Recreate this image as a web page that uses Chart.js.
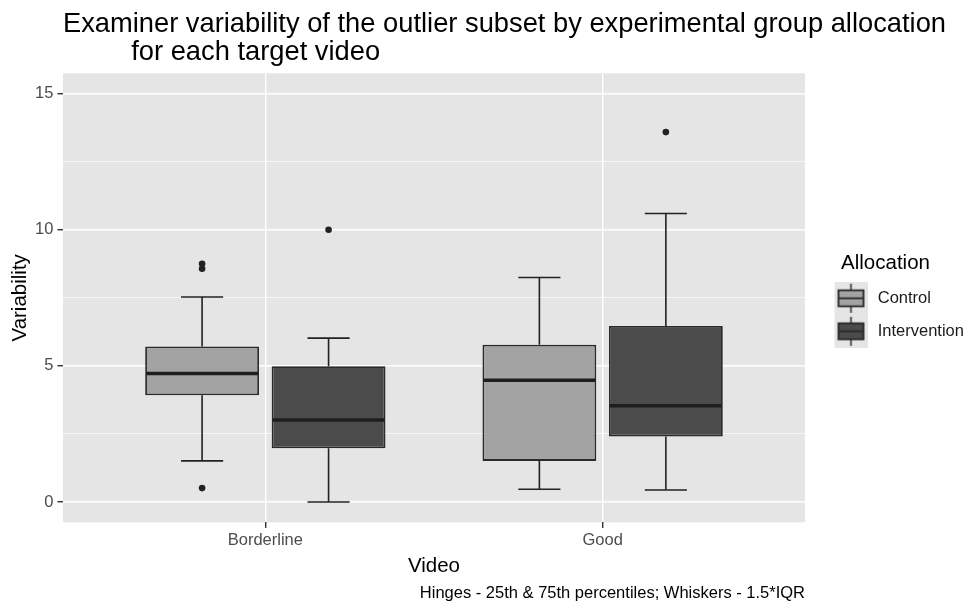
<!DOCTYPE html>
<html>
<head>
<meta charset="utf-8">
<title>Examiner variability</title>
<script src="https://cdn.jsdelivr.net/npm/chart.js@4.4.1/dist/chart.umd.min.js"></script>
<style>
  html, body { margin: 0; padding: 0; background: #ffffff; }
  #wrap { width: 966px; height: 604px; }
</style>
</head>
<body>
<div id="wrap"><canvas id="chartVariabilidad" width="966" height="604"></canvas></div>
<script>
const categories = ['Borderline', 'Good'];
const groups = ['Control', 'Intervention'];
const groupColors = ['#a3a3a3', '#4b4b4b'];

// resumen de cada caja, un valor por video (Borderline, Good)
const controlLow = [1.51, 0.47];
const controlQ1 = [3.92, 1.51];
const controlMedian = [4.72, 4.47];
const controlQ3 = [5.71, 5.78];
const controlHigh = [7.53, 8.25];
const controlOutliers = [[8.57, 8.75, 0.51], []];

const interventionLow = [0.0, 0.44];
const interventionQ1 = [1.97, 2.41];
const interventionMedian = [3.01, 3.54];
const interventionQ3 = [4.99, 6.47];
const interventionHigh = [6.02, 10.6];
const interventionOutliers = [[10.0], [13.59]];

const yTicks = [0, 2.5, 5, 7.5, 10, 12.5, 15];

const fontFamily = '"Liberation Sans", Arial, sans-serif';
const dodge = 0.75;   // ancho del dodge de ggplot = categoryPercentage
const panelColor = '#e5e5e5';

function crearCaja(nombre, color, low, q1, med, q3, high) {
    return {
        type: 'bar',
        label: nombre,
        data: categories.map((c, i) => ({ x: i + 1, y: [q1[i], q3[i]] })),
        backgroundColor: color,
        borderColor: '#2a2a2a',
        borderWidth: 1.8,
        borderSkipped: false,
        categoryPercentage: dodge,
        barPercentage: 0.9,
        whiskers: { low: low, med: med, high: high, q1: q1, q3: q3 },
        order: 1
    };
}

function crearAtipicos(nombre, g, valores) {
    const puntos = [];
    valores.forEach((lista, i) => {
        lista.forEach(v => puntos.push({ x: i + 1 + (g - 0.5) * dodge / 2, y: v }));
    });
    return {
        type: 'scatter',
        label: nombre + ' outliers',
        data: puntos,
        pointRadius: 3.3,
        pointBackgroundColor: '#222222',
        pointBorderWidth: 0,
        order: 0
    };
}

// llave de la leyenda con forma de boxplot
function crearLlave(color) {
    const c = document.createElement('canvas');
    c.width = 44;
    c.height = 33;
    const g = c.getContext('2d');
    const ox = 11;
    g.fillStyle = panelColor;
    g.fillRect(ox, 0, 33, 33);
    g.strokeStyle = '#2a2a2a';
    g.lineWidth = 1.5;
    g.beginPath();
    g.moveTo(ox + 16.5, 2);
    g.lineTo(ox + 16.5, 31);
    g.stroke();
    g.fillStyle = color;
    g.fillRect(ox + 4, 8.5, 25, 16);
    g.lineWidth = 1.8;
    g.strokeRect(ox + 4, 8.5, 25, 16);
    g.beginPath();
    g.moveTo(ox + 4, 16.5);
    g.lineTo(ox + 29, 16.5);
    g.stroke();
    return c;
}

const llaves = groupColors.map(crearLlave);

const fondoPanel = {
    id: 'fondoPanel',
    beforeDraw(chart) {
        const { ctx, chartArea } = chart;
        ctx.save();
        ctx.fillStyle = '#ffffff';
        ctx.fillRect(0, 0, chart.width, chart.height);
        ctx.fillStyle = panelColor;
        ctx.fillRect(chartArea.left, chartArea.top, chartArea.right - chartArea.left, chartArea.bottom - chartArea.top);
        ctx.restore();
    }
};

// el titulo arranca en el borde del panel, como en ggplot
const tituloEnPanel = {
    id: 'tituloEnPanel',
    afterLayout(chart) {
        if (chart.titleBlock) {
            chart.titleBlock.left = chart.chartArea.left;
            chart.titleBlock.right = chart.width;
        }
    }
};

const bigotes = {
    id: 'bigotes',
    afterDatasetsDraw(chart) {
        const ctx = chart.ctx;
        const yScale = chart.scales.y;
        chart.data.datasets.forEach((ds, di) => {
            if (!ds.whiskers) return;
            const w = ds.whiskers;
            chart.getDatasetMeta(di).data.forEach((bar, i) => {
                const x = bar.x;
                const half = bar.width / 2;
                const cap = bar.width * 0.185;
                ctx.save();
                ctx.strokeStyle = '#222222';
                ctx.lineWidth = 1.6;
                ctx.beginPath();
                ctx.moveTo(x, yScale.getPixelForValue(w.q3[i]));
                ctx.lineTo(x, yScale.getPixelForValue(w.high[i]));
                ctx.moveTo(x, yScale.getPixelForValue(w.q1[i]));
                ctx.lineTo(x, yScale.getPixelForValue(w.low[i]));
                ctx.moveTo(x - cap, yScale.getPixelForValue(w.high[i]));
                ctx.lineTo(x + cap, yScale.getPixelForValue(w.high[i]));
                ctx.moveTo(x - cap, yScale.getPixelForValue(w.low[i]));
                ctx.lineTo(x + cap, yScale.getPixelForValue(w.low[i]));
                ctx.stroke();
                ctx.lineWidth = 3.5;
                ctx.strokeStyle = '#1e1e1e';
                ctx.beginPath();
                ctx.moveTo(x - half + 1, yScale.getPixelForValue(w.med[i]));
                ctx.lineTo(x + half - 1, yScale.getPixelForValue(w.med[i]));
                ctx.stroke();
                ctx.restore();
            });
        });
    }
};

Chart.defaults.font.family = fontFamily;

const datasets = [
    crearCaja(groups[0], groupColors[0], controlLow, controlQ1, controlMedian, controlQ3, controlHigh),
    crearCaja(groups[1], groupColors[1], interventionLow, interventionQ1, interventionMedian, interventionQ3, interventionHigh),
    crearAtipicos(groups[0], 0, controlOutliers),
    crearAtipicos(groups[1], 1, interventionOutliers)
];

new Chart(document.getElementById('chartVariabilidad'), {
    type: 'bar',
    data: { datasets: datasets },
    options: {
        responsive: false,
        animation: false,
        events: [],
        layout: { padding: { left: 5.7, right: 0, top: 0, bottom: 0 } },
        scales: {
            x: {
                type: 'linear',
                min: 0.4,
                max: 2.6,
                offset: false,
                afterBuildTicks: (scale) => {
                    scale.ticks = categories.map((c, i) => ({ value: i + 1 }));
                },
                ticks: {
                    autoSkip: false,
                    maxRotation: 0,
                    padding: 3,
                    color: '#4d4d4d',
                    font: { size: 16.5 },
                    callback: (v) => categories[Math.round(v) - 1]
                },
                grid: {
                    offset: false,
                    color: '#ffffff',
                    lineWidth: 1.4,
                    tickLength: 5.5,
                    tickColor: '#333333',
                    tickWidth: 1.4
                },
                border: { display: false },
                title: {
                    display: true,
                    text: 'Video',
                    color: '#000000',
                    font: { size: 20.5 },
                    padding: { top: 0, bottom: 2 }
                }
            },
            y: {
                type: 'linear',
                min: -0.75,
                max: 15.75,
                afterBuildTicks: (scale) => {
                    scale.ticks = yTicks.map(v => ({ value: v }));
                },
                ticks: {
                    autoSkip: false,
                    padding: 4,
                    color: '#4d4d4d',
                    font: { size: 16.5 },
                    callback: (v) => (v % 5 === 0 ? String(v) : '')
                },
                grid: {
                    color: '#ffffff',
                    lineWidth: (ctx) => (ctx.tick && ctx.tick.value % 5 === 0 ? 1.4 : 0.7),
                    tickLength: 5.5,
                    tickColor: (ctx) => (ctx.tick && ctx.tick.value % 5 === 0 ? '#333333' : 'rgba(0,0,0,0)'),
                    tickWidth: 1.4
                },
                border: { display: false },
                title: {
                    display: true,
                    text: 'Variability',
                    color: '#000000',
                    font: { size: 20.5 },
                    padding: { top: 2, bottom: -1.2 }
                }
            }
        },
        plugins: {
            title: {
                display: true,
                align: 'start',
                text: [
                    'Examiner variability of the outlier subset by experimental group allocation',
                    '         for each target video'
                ],
                color: '#000000',
                font: { size: 27.3, weight: 'normal', lineHeight: 1.04 },
                padding: { top: 10, bottom: 6.5 }
            },
            subtitle: {
                display: true,
                position: 'bottom',
                align: 'end',
                fullSize: false,
                text: 'Hinges - 25th & 75th percentiles; Whiskers - 1.5*IQR',
                color: '#000000',
                font: { size: 16.5 },
                padding: { top: 2.8, bottom: 1.1 }
            },
            legend: {
                position: 'right',
                align: 'center',
                maxWidth: 161,
                title: {
                    display: true,
                    text: 'Allocation',
                    position: 'center',
                    color: '#000000',
                    font: { size: 20.5, lineHeight: 1.1 },
                    padding: { top: 5, bottom: -2 }
                },
                labels: {
                    usePointStyle: true,
                    pointStyleWidth: 48,
                    padding: 16.5,
                    color: '#1a1a1a',
                    font: { size: 16.5 },
                    generateLabels: (chart) => chart.data.datasets
                        .map((ds, i) => ({ ds: ds, i: i }))
                        .filter(o => o.ds.whiskers)
                        .map(o => ({
                            text: o.ds.label,
                            pointStyle: llaves[o.i],
                            datasetIndex: o.i,
                            fontColor: '#1a1a1a',
                            fillStyle: 'rgba(0,0,0,0)',
                            strokeStyle: 'rgba(0,0,0,0)',
                            lineWidth: 0,
                            hidden: false
                        }))
                },
                onClick: () => {}
            },
            tooltip: { enabled: false }
        }
    },
    plugins: [fondoPanel, tituloEnPanel, bigotes]
});
</script>
</body>
</html>
